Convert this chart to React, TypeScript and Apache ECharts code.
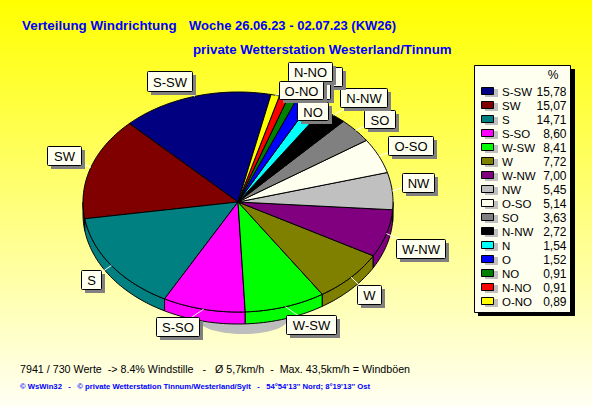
import React, { useEffect, useRef } from "react";
import * as echarts from "echarts";

const directions = ["S-SW", "SW", "S", "S-SO", "W-SW", "W", "W-NW", "NW", "O-SO", "SO", "N-NW", "N", "O", "NO", "N-NO", "O-NO"];
const shares = [15.78, 15.07, 14.71, 8.6, 8.41, 7.72, 7.0, 5.45, 5.14, 3.63, 2.72, 1.54, 1.52, 0.91, 0.91, 0.89];
const shareLabels = ["15,78", "15,07", "14,71", "8,60", "8,41", "7,72", "7,00", "5,45", "5,14", "3,63", "2,72", "1,54", "1,52", "0,91", "0,91", "0,89"];
const colors = ["#000080", "#800000", "#008080", "#ff00ff", "#00ff00", "#808000", "#800080", "#c0c0c0", "#fffff0", "#808080", "#000000", "#00ffff", "#0000ff", "#008000", "#ff0000", "#ffff00"];
// label boxes: x0, y0, x1, y1
const labelBoxes = [
  [147, 71, 192, 91], [47, 146, 81, 165], [81, 270, 101, 289], [156, 317, 199, 336],
  [286, 315, 336, 334], [357, 285, 381, 304], [396, 239, 445, 258], [402, 173, 434, 192],
  [388, 136, 433, 155], [364, 110, 395, 128], [340, 88, 387, 107], [319, 67, 342, 86],
  [308, 80, 330, 99], [297, 102, 328, 120], [288, 62, 332, 81], [279, 81, 323, 99],
];

const CX = 238, CY = 202, RX = 155, RY = 110, DEPTH = 12, START = 12.3;
const FONT = "'Liberation Sans', Arial, sans-serif";
const total = shares.reduce((a, b) => a + b, 0);
const pt = (deg: number, dy = 0): number[] => {
  const r = (deg * Math.PI) / 180;
  return [CX + RX * Math.sin(r), CY - RY * Math.cos(r) + dy];
};
const sliceRange = (i: number) => {
  const before = shares.slice(0, i).reduce((a, b) => a + b, 0);
  return [START - (before / total) * 360, START - ((before + shares[i]) / total) * 360];
};
const arc = (a: number, b: number, dy = 0) => {
  const n = Math.max(2, Math.ceil(Math.abs(a - b)));
  const out: number[][] = [];
  for (let k = 0; k <= n; k++) out.push(pt(a + ((b - a) * k) / n, dy));
  return out;
};

const renderSlice = (params: any) => {
  const i = params.dataIndex;
  const [a, b] = sliceRange(i);
  const style = { fill: colors[i], stroke: "#000", lineWidth: 1 };
  const children: any[] = [];
  const sa = Math.min(a, -90), sb = Math.max(b, -270);
  if (sa > sb) {
    const top = arc(sa, sb);
    const bottom = arc(sb, sa, DEPTH);
    children.push({ type: "polygon", shape: { points: [...top, ...bottom] }, style });
  }
  children.push({ type: "polygon", shape: { points: [[CX, CY], ...arc(a, b)] }, style });
  return { type: "group", children };
};

const renderLeader = (params: any) => {
  const i = params.dataIndex;
  const [a, b] = sliceRange(i);
  const box = labelBoxes[i];
  const p = pt((a + b) / 2);
  return {
    type: "line",
    shape: { x1: p[0], y1: p[1], x2: (box[0] + box[2]) / 2, y2: (box[1] + box[3]) / 2 },
    style: { stroke: "#ffffff", lineWidth: 1 },
  };
};

const renderLabel = (params: any) => {
  const i = params.dataIndex;
  const [x0, y0, x1, y1] = labelBoxes[i];
  return {
    type: "group",
    children: [
      { type: "rect", shape: { x: x0 + 4, y: y0 + 4, width: x1 - x0, height: y1 - y0 }, style: { fill: "#808080" } },
      { type: "rect", shape: { x: x0 + 0.5, y: y0 + 0.5, width: x1 - x0, height: y1 - y0, r: 1 }, style: { fill: "#fffff0", stroke: "#000", lineWidth: 1 } },
      { type: "text", style: { x: (x0 + x1) / 2 + 0.5, y: (y0 + y1) / 2 + 1, text: directions[i], fill: "#000", font: `13px ${FONT}`, align: "center", verticalAlign: "middle" } },
    ],
  };
};

const txt = (x: number, y: number, text: string, fill: string, font: string, align = "left") => ({
  type: "text", z: 20, style: { x, y, text, fill, font, align, verticalAlign: "middle" },
});

const legendGraphics = () => {
  const els: any[] = [
    { type: "rect", z: 10, shape: { x: 478, y: 69, width: 97, height: 247 }, style: { fill: "#000" } },
    { type: "rect", z: 11, shape: { x: 474.5, y: 65.5, width: 96, height: 247 }, style: { fill: "#fffff0", stroke: "#000", lineWidth: 1 } },
    txt(553, 75, "%", "#000", `12px ${FONT}`, "center"),
  ];
  directions.forEach((d, i) => {
    const y = 91 + 14 * i;
    els.push({ type: "rect", z: 12, shape: { x: 485, y: y - 2, width: 13, height: 8 }, style: { fill: "#c0c0c0" } });
    els.push({ type: "rect", z: 13, shape: { x: 481.5, y: y - 3.5, width: 12, height: 7 }, style: { fill: colors[i], stroke: "#000", lineWidth: 1 } });
    els.push(txt(502, y + 0.5, d, "#000", `11.5px ${FONT}`));
    els.push(txt(566.5, y + 0.5, shareLabels[i], "#000", `12px ${FONT}`, "right"));
  });
  return els;
};

const option: any = {
  animation: false,
  backgroundColor: {
    type: "linear", x: 0, y: 0, x2: 0, y2: 1,
    colorStops: [{ offset: 0, color: "#ffff00" }, { offset: 1, color: "#fffff4" }],
  },
  graphic: [
    { type: "ellipse", z: 0, shape: { cx: 243, cy: 320, rx: 44, ry: 14 }, style: { fill: "#bdbdbd" } },
    txt(22, 25, "Verteilung Windrichtung", "#0000ff", `bold 13.4px ${FONT}`),
    txt(189, 25, "Woche 26.06.23 - 02.07.23 (KW26)", "#0000ff", `bold 13px ${FONT}`),
    txt(193, 49, "private Wetterstation Westerland/Tinnum", "#0000ff", `bold 13.3px ${FONT}`),
    txt(20, 369, "7941 / 730 Werte  -> 8.4% Windstille   -   Ø 5,7km/h  -  Max. 43,5km/h = Windböen", "#000", `10.7px ${FONT}`),
    txt(20, 386, "© WsWin32   -   © private Wetterstation Tinnum/Westerland/Sylt   -   54°54'13'' Nord; 8°19'13'' Ost", "#0000ff", `bold 7.7px ${FONT}`),
    ...legendGraphics(),
  ],
  series: [
    { type: "custom", coordinateSystem: "none", z: 2, silent: true, data: shares.map((v, i) => [i, v]), renderItem: renderSlice },
    { type: "custom", coordinateSystem: "none", z: 3, silent: true, data: shares.map((v, i) => [i, v]), renderItem: renderLeader },
    { type: "custom", coordinateSystem: "none", z: 4, silent: true, data: shares.map((v, i) => [i, v]), renderItem: renderLabel },
  ],
};

export default function App() {
  const ref = useRef<HTMLDivElement>(null);
  useEffect(() => {
    document.body.style.margin = "0";
    const chart = echarts.init(ref.current as HTMLDivElement, undefined, { renderer: "svg" });
    chart.setOption(option);
    return () => chart.dispose();
  }, []);
  return <div ref={ref} style={{ width: 592, height: 407 }} />;
}
